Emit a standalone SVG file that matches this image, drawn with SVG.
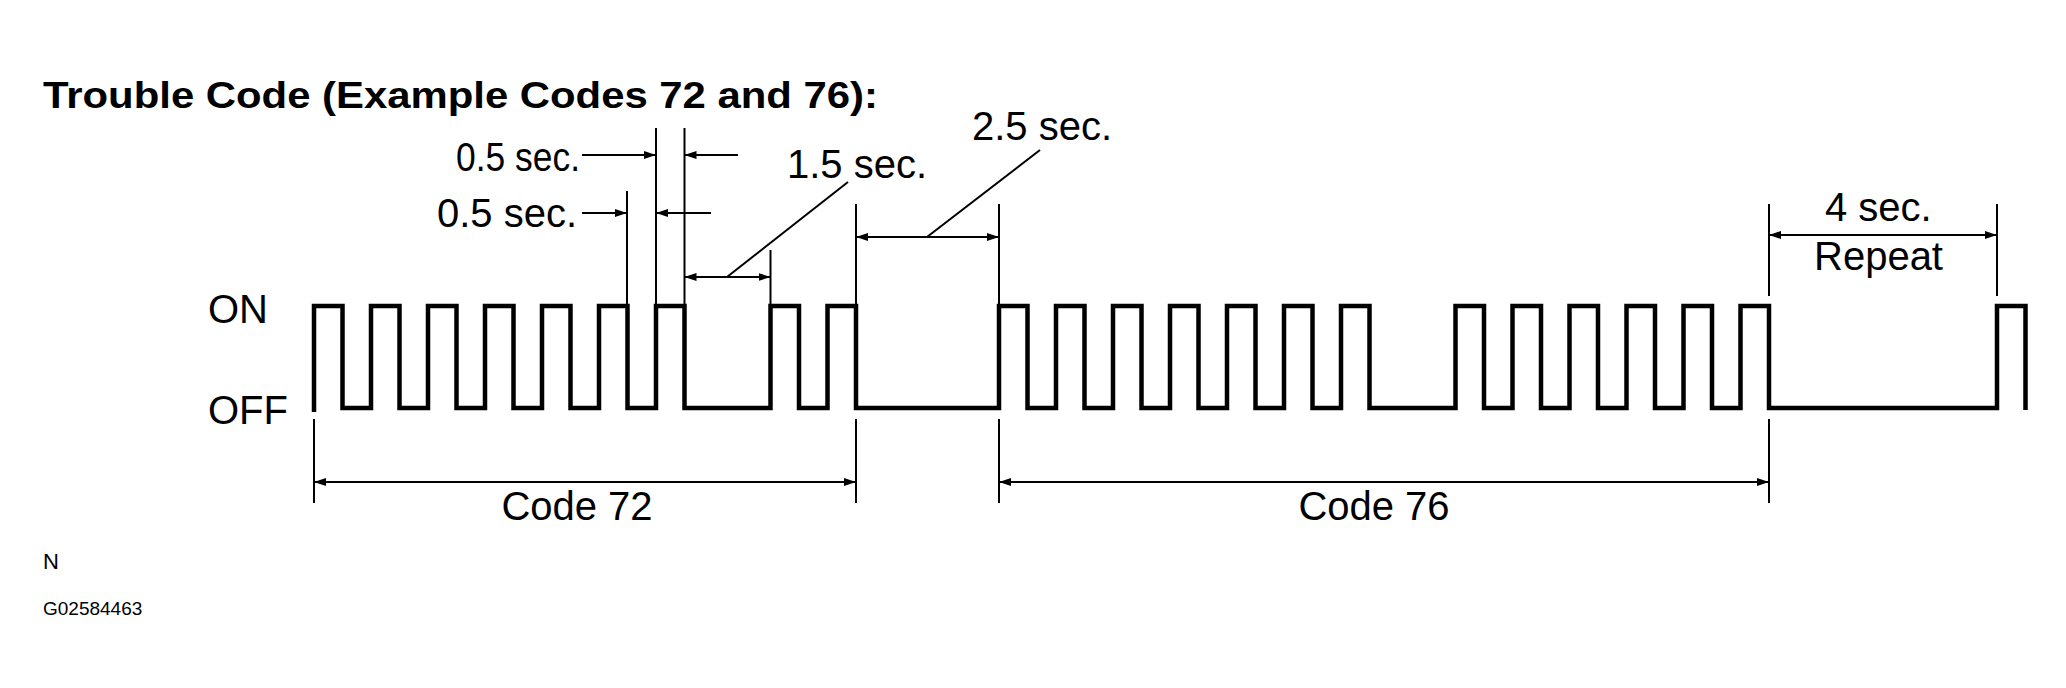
<svg xmlns="http://www.w3.org/2000/svg" width="2066" height="688" viewBox="0 0 2066 688">
<style>
text{font-family:"Liberation Sans",Arial,sans-serif;fill:#000}
.t{font-size:40px}
.d{stroke:#000;stroke-width:2;fill:none}
.w{stroke:#000;stroke-width:4.5;fill:none}
</style>
<defs>
<marker id="a" viewBox="0 0 12 8" refX="12" refY="4" markerWidth="12" markerHeight="8" markerUnits="userSpaceOnUse" orient="auto"><path d="M0,0L12,4L0,8z" fill="#000"/></marker>
</defs>
<rect width="2066" height="688" fill="#fff"/>
<text x="43" y="108" font-size="36" font-weight="bold" textLength="835" lengthAdjust="spacingAndGlyphs">Trouble Code (Example Codes 72 and 76):</text>
<g id="labels" class="t">
<text x="456" y="171" textLength="124" lengthAdjust="spacingAndGlyphs">0.5 sec.</text>
<text x="437" y="227" textLength="140" lengthAdjust="spacingAndGlyphs">0.5 sec.</text>
<text x="787" y="178">1.5 sec.</text>
<text x="972" y="140">2.5 sec.</text>
<text x="1825" y="221">4 sec.</text>
<text x="1814" y="270">Repeat</text>
<text x="208" y="323">ON</text>
<text x="208" y="424">OFF</text>
<text x="577" y="520" text-anchor="middle">Code 72</text>
<text x="1374" y="520" text-anchor="middle">Code 76</text>
</g>
<text x="43" y="569" font-size="22">N</text>
<text x="43" y="615" font-size="19">G02584463</text>
<g id="waveform">
<path class="w" d="M314,412 V306 h28.5 v102 h28.5 v-102 h28.5 v102 h28.5 v-102 h28.5 v102 h28.5 v-102 h28.5 v102 h28.5 v-102 h28.5 v102 h28.5 v-102 h28.5 v102 h28.5 v-102 h28.5 v102 h86 v-102 h28.5 v102 h28.5 v-102 h28.5 v102 h143 v-102 h28.5 v102 h28.5 v-102 h28.5 v102 h28.5 v-102 h28.5 v102 h28.5 v-102 h28.5 v102 h28.5 v-102 h28.5 v102 h28.5 v-102 h28.5 v102 h28.5 v-102 h28.5 v102 h86 v-102 h28.5 v102 h28.5 v-102 h28.5 v102 h28.5 v-102 h28.5 v102 h28.5 v-102 h28.5 v102 h28.5 v-102 h28.5 v102 h28.5 v-102 h28.5 v102 h228 v-102 h28.5 v104"/>
</g>
<g id="connectors" class="d">
<path d="M656,128V306M684.5,128V306M627,191V306M770.5,250V306M856,204V306M999,204V306M1769,204V296M1997,204V296"/>
<path d="M314,419V503M856,419V503M999,419V503M1769,419V503"/>
<path d="M582,155H656" marker-end="url(#a)"/>
<path d="M738,155H684.5" marker-end="url(#a)"/>
<path d="M582,213H627" marker-end="url(#a)"/>
<path d="M711,213H656" marker-end="url(#a)"/>
<path d="M727,277H684.5" marker-end="url(#a)"/>
<path d="M727,277H770.5" marker-end="url(#a)"/>
<path d="M727,277L848,182"/>
<path d="M927,237H856" marker-end="url(#a)"/>
<path d="M927,237H999" marker-end="url(#a)"/>
<path d="M927,237L1040,150"/>
<path d="M1883,235H1769" marker-end="url(#a)"/>
<path d="M1883,235H1997" marker-end="url(#a)"/>
<path d="M585,482H314" marker-end="url(#a)"/>
<path d="M585,482H856" marker-end="url(#a)"/>
<path d="M1384,482H999" marker-end="url(#a)"/>
<path d="M1384,482H1769" marker-end="url(#a)"/>
</g>
</svg>
